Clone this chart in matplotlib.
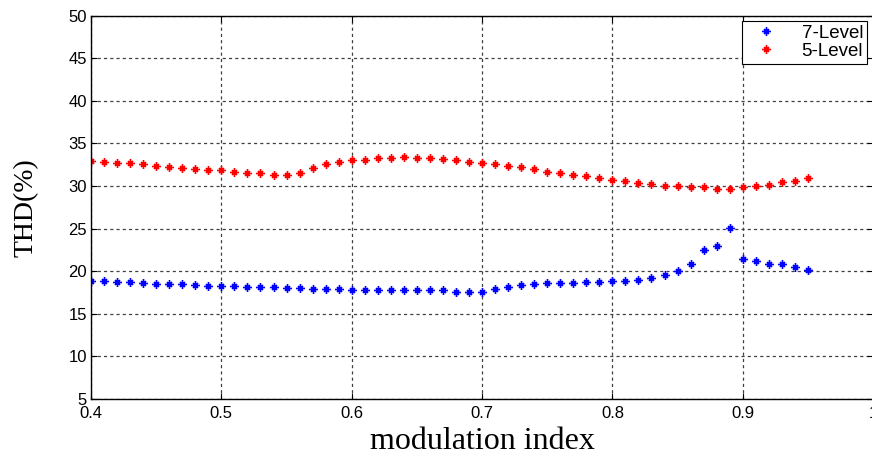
import matplotlib
matplotlib.use("Agg")
import matplotlib.pyplot as plt
from matplotlib.path import Path

# modulation index sweep and the measured THD for both inverters
mod_index = [0.40, 0.41, 0.42, 0.43, 0.44, 0.45, 0.46, 0.47, 0.48, 0.49,
             0.50, 0.51, 0.52, 0.53, 0.54, 0.55, 0.56, 0.57, 0.58, 0.59,
             0.60, 0.61, 0.62, 0.63, 0.64, 0.65, 0.66, 0.67, 0.68, 0.69,
             0.70, 0.71, 0.72, 0.73, 0.74, 0.75, 0.76, 0.77, 0.78, 0.79,
             0.80, 0.81, 0.82, 0.83, 0.84, 0.85, 0.86, 0.87, 0.88, 0.89,
             0.90, 0.91, 0.92, 0.93, 0.94, 0.95]

thd_7level = [18.9, 18.8, 18.7, 18.7, 18.6, 18.55, 18.55, 18.45, 18.4, 18.3,
              18.3, 18.25, 18.15, 18.15, 18.1, 18.05, 18.05, 17.95, 17.9, 17.9,
              17.85, 17.85, 17.8, 17.8, 17.8, 17.75, 17.75, 17.75, 17.6, 17.6,
              17.6, 17.9, 18.1, 18.35, 18.55, 18.6, 18.6, 18.6, 18.7, 18.7,
              18.8, 18.85, 18.95, 19.2, 19.6, 20.0, 20.9, 22.5, 23.0, 25.05,
              21.45, 21.15, 20.9, 20.8, 20.55, 20.2]

thd_5level = [32.9, 32.8, 32.65, 32.65, 32.55, 32.4, 32.2, 32.1, 31.95, 31.85,
              31.85, 31.7, 31.55, 31.5, 31.3, 31.25, 31.5, 32.15, 32.55, 32.85,
              33.05, 33.1, 33.3, 33.35, 33.45, 33.35, 33.35, 33.15, 33.05, 32.85,
              32.7, 32.55, 32.4, 32.2, 31.95, 31.7, 31.5, 31.3, 31.15, 30.95,
              30.75, 30.6, 30.35, 30.2, 30.05, 29.95, 29.85, 29.85, 29.7, 29.7,
              29.85, 29.95, 30.1, 30.45, 30.6, 31.0]

x_ticks = [0.4, 0.5, 0.6, 0.7, 0.8, 0.9, 1.0]
x_ticklabels = ["0.4", "0.5", "0.6", "0.7", "0.8", "0.9", "1"]
y_ticks = [5, 10, 15, 20, 25, 30, 35, 40, 45, 50]

plt.rcParams['font.family'] = ['Liberation Sans', 'DejaVu Sans']

# asterisk marker: a plus sign with shorter diagonal strokes
d = 0.55
star = Path([(-1, 0), (1, 0), (0, -1), (0, 1),
             (-d, -d), (d, d), (-d, d), (d, -d)],
            [Path.MOVETO, Path.LINETO] * 4)

fig = plt.figure(figsize=(8.72, 4.54), dpi=100)
ax = fig.add_axes([0.1044, 0.1211, 0.8968, 0.8443])

ax.plot(mod_index, thd_7level, linestyle='none', marker=star, markersize=6.5,
        markeredgewidth=1.2, color='#0000ff', label='7-Level')
ax.plot(mod_index, thd_5level, linestyle='none', marker=star, markersize=6.5,
        markeredgewidth=1.2, color='#ff0000', label='5-Level')

ax.set_xlim(0.4, 1.0)
ax.set_ylim(5, 50)
ax.set_xticks(x_ticks)
ax.set_xticklabels(x_ticklabels)
ax.set_yticks(y_ticks)

ax.grid(True, color='0.25', linestyle=(0, (2.5, 2.5)), linewidth=0.9)
ax.tick_params(direction='in', length=4, width=0.8, top=True, right=True,
               labelsize=12, colors='black')
ax.tick_params(axis='x', pad=5)
ax.tick_params(axis='y', pad=3)
for sp in ax.spines.values():
    sp.set_linewidth(1.0)
    sp.set_color('black')

ax.set_xlabel('modulation index', family='Liberation Serif', fontsize=23,
              labelpad=4)
ax.set_ylabel('THD(%)', family='Liberation Serif', fontsize=20, labelpad=21)

leg = ax.legend(loc='upper right', bbox_to_anchor=(0.997, 0.996), fontsize=13.5,
                fancybox=False, framealpha=1, edgecolor='black',
                handlelength=2.2, handletextpad=0.8, borderpad=0.2,
                labelspacing=0.05, borderaxespad=0.2)
leg.get_frame().set_linewidth(0.8)

fig.savefig('out.png', dpi=100)
